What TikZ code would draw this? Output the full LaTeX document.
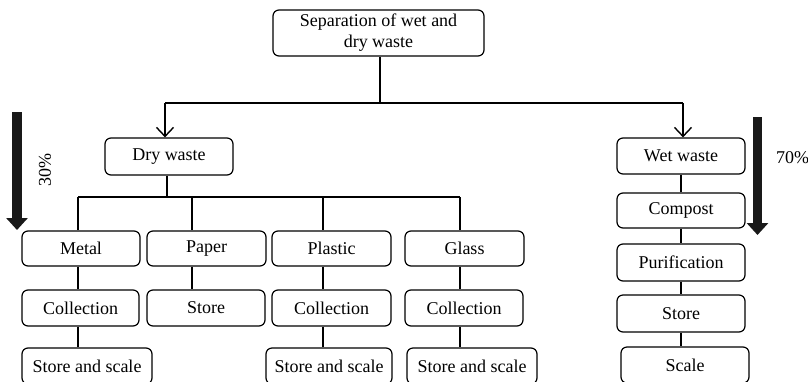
\documentclass[tikz,border=0pt]{standalone}
\usepackage{fontspec}
\setmainfont{Liberation Serif}
\usetikzlibrary{arrows.meta}
\begin{document}
\begin{tikzpicture}[x=1pt,y=-1pt,
  box/.style={draw, line width=1.2pt, rounded corners=6pt, inner sep=0pt,
    font=\fontsize{18}{21}\selectfont, align=center},
  link/.style={line width=1.2pt},
  arr/.style={line width=1.2pt, -{Straight Barb[length=9pt,width=17pt,line width=1.4pt]}},
  big/.style={line width=9.5pt, -{Triangle[length=12pt,width=21pt]}},
  pct/.style={font=\fontsize{18}{21}\selectfont, inner sep=0pt}]
\useasboundingbox (0,0) rectangle (808,381);
\clip (0,0) rectangle (808,381);
% nodes
\node[box, minimum width=211pt, minimum height=46pt] (top) at (378.5,33) {Separation of wet and\\dry waste};
\node[box, minimum width=128pt, minimum height=37pt] (dry) at (169,156.5) {Dry waste};
\node[box, minimum width=128pt, minimum height=36pt] (wet) at (681,156) {Wet waste};
% dry row 1
\node[box, minimum width=118pt, minimum height=35pt] (metal) at (81,248.5) {Metal};
\node[box, minimum width=119pt, minimum height=35pt] (paper) at (206.5,248.5) {Paper};
\node[box, minimum width=119pt, minimum height=35pt] (plastic) at (331.5,248.5) {Plastic};
\node[box, minimum width=119pt, minimum height=35pt] (glass) at (464.5,248.5) {Glass};
% dry row 2
\node[box, minimum width=117pt, minimum height=36pt] (mcoll) at (80.5,308) {Collection};
\node[box, minimum width=118pt, minimum height=36pt] (pstore) at (206,308) {Store};
\node[box, minimum width=119pt, minimum height=36pt] (lcoll) at (331.5,308) {Collection};
\node[box, minimum width=118pt, minimum height=36pt] (gcoll) at (464,308) {Collection};
% dry row 3
\node[box, minimum width=130pt, minimum height=36pt] (mss) at (87,366) {Store and scale};
\node[box, minimum width=126pt, minimum height=36pt] (lss) at (329,366) {Store and scale};
\node[box, minimum width=130pt, minimum height=36pt] (gss) at (472,366) {Store and scale};
% wet column
\node[box, minimum width=128pt, minimum height=35pt] (compost) at (681,210.5) {Compost};
\node[box, minimum width=128pt, minimum height=37pt] (purif) at (681,262.5) {Purification};
\node[box, minimum width=128pt, minimum height=37pt] (wstore) at (681,313.5) {Store};
\node[box, minimum width=128pt, minimum height=36pt] (scale) at (685,365) {Scale};
% junctions
\coordinate (j) at (380,103);
\coordinate (jd) at (165,103);
\coordinate (jw) at (683,103);
\coordinate (bm) at (78,197);
\coordinate (bp) at (192,197);
\coordinate (bl) at (323,197);
\coordinate (bg) at (460,197);
% top connectors
\draw[link] (top.south -| j) -- (j);
\draw[link] (jd) -- (jw);
\draw[arr] (jd) -- (jd |- dry.north);
\draw[arr] (jw) -- (jw |- wet.north);
% dry tree
\draw[link] ([xshift=-2pt]dry.south) -- ([xshift=-2pt]dry.south |- bm);
\draw[link] (bm) -- (bg);
\draw[link] (bm) -- (bm |- metal.north);
\draw[link] (bp) -- (bp |- paper.north);
\draw[link] (bl) -- (bl |- plastic.north);
\draw[link] (bg) -- (bg |- glass.north);
\draw[link] (metal.south -| bm) -- (mcoll.north -| bm);
\draw[link] (mcoll.south -| bm) -- (mss.north -| bm);
\draw[link] (paper.south -| bp) -- (pstore.north -| bp);
\draw[link] (plastic.south -| bl) -- (lcoll.north -| bl);
\draw[link] (lcoll.south -| bl) -- (lss.north -| bl);
\draw[link] (glass.south -| bg) -- (gcoll.north -| bg);
\draw[link] (gcoll.south -| bg) -- (gss.north -| bg);
% wet chain
\draw[link] (wet.south) -- (compost.north);
\draw[link] (compost.south) -- (purif.north);
\draw[link] (purif.south) -- (wstore.north);
\draw[link] (wstore.south) -- (wstore.south |- scale.north);
% percentage arrows
\draw[big, black!90] (17,112) -- (17,230);
\draw[big, black!90] (757.5,117) -- (757.5,235);
\node[pct, rotate=90] (p30) at (45,170) {30\%};
\node[pct, anchor=west] (p70) at (776,158) {70\%};
\end{tikzpicture}
\end{document}
